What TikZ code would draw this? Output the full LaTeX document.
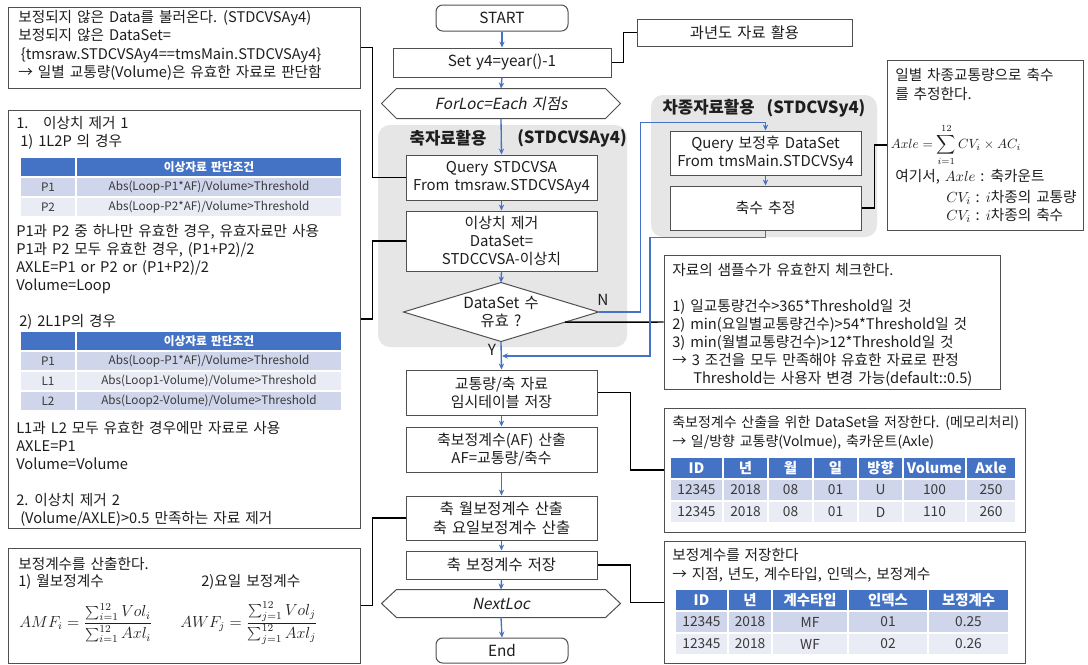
\documentclass[tikz,border=0pt]{standalone}
\usepackage{fontspec}
\setmainfont{Noto Sans CJK KR}[AutoFakeSlant=0.2,WordSpace=1.5]
\usetikzlibrary{arrows.meta,calc}
\definecolor{flowblue}{HTML}{4472C4}
\definecolor{hdrblue}{HTML}{4472C4}
\definecolor{rowa}{HTML}{CFD5EA}
\definecolor{rowb}{HTML}{E9EBF5}
\definecolor{regiongray}{HTML}{E6E6E6}
\definecolor{ink}{HTML}{1E1E1E}
\definecolor{cellink}{HTML}{3A3A3A}
\definecolor{edge}{HTML}{505050}
\newcommand\bx[7][]{%
  \pgfmathsetmacro\bxw{(#5-#3)*0.75}%
  \pgfmathsetmacro\bxh{(#6-#4)*0.75}%
  \node[flowbox,#1,minimum width=\bxw pt,minimum height=\bxh pt] (#2) at ({(#3+#5)/2},{(#4+#6)/2}) {#7};}
\newcommand\cellbox[8]{%
  \fill[#5] ({#1+1},{#2+1}) rectangle ({#3-1},{#4-1});
  \node[#8] (#6) at ({(#1+#3)/2},{(#2+#4)/2}) {#7};}
\begin{document}
\begin{tikzpicture}[x=0.75pt,y=-0.75pt,
  every node/.style={text=ink,font=\fontsize{11}{13.9}\selectfont},
  flowbox/.style={draw=edge,line width=0.75pt,fill=white,align=center,inner sep=0pt,font=\fontsize{11.2}{13.5}\selectfont},
  bigfont/.style={font=\fontsize{11.5}{14}\selectfont},
  notetxt/.style={anchor=north west,align=left,inner sep=0pt},
  region/.style={fill=regiongray,rounded corners=9pt},
  arr/.style={draw=flowblue,line width=1pt,-{Stealth[length=4.5pt,width=4pt]}},
  conn/.style={draw=black,line width=1.1pt},
  hexline/.style={draw=edge,line width=0.75pt,fill=white},
  lcell/.style={font=\fontsize{8.8}{10}\selectfont,text=cellink,inner sep=0pt},
  lhead/.style={font=\fontsize{8.8}{10}\selectfont\bfseries,text=white,inner sep=0pt},
  rcell/.style={font=\fontsize{10.3}{12}\selectfont,text=cellink,inner sep=0pt},
  rhead/.style={font=\fontsize{10.8}{12}\selectfont\bfseries,text=white,inner sep=0pt},
  titletxt/.style={font=\fontsize{12.5}{14}\selectfont\bfseries,inner sep=0pt},
  mathfont/.style={font=\fontsize{12}{14}\selectfont,inner sep=0pt},
]
\useasboundingbox (0,0) rectangle (1088,664);
\fill[white] (0,0) rectangle (1088,664);

% regions
\fill[region] (378,125) rectangle (627,347);
\fill[region] (651,95) rectangle (877,237);
\node[titletxt] (reg1a) at (448,138) {축자료활용};
\node[titletxt] (reg1b) at (572,138) {(STDCVSAy4)};
\node[titletxt] (reg2) at (764,108) {차종자료활용\hspace{9pt}(STDCVSy4)};

% main flow
\bx[rounded corners=5pt,bigfont]{start}{436}{5}{568}{31}{START}
\bx[bigfont]{set}{393}{48}{611}{77}{Set y4=year()-1}
\bx[draw=none,fill=none]{loop}{397}{89}{605}{118}{}
\draw[hexline] (loop.north west) -- (loop.north east) -- ($(loop.east)+(15,0)$) -- (loop.south east) -- (loop.south west) -- ($(loop.west)+(-15,0)$) -- cycle;
\node[bigfont] (loopt) at (loop.center) {\itshape ForLoc=Each 지점s};
\bx{q1}{406}{155}{597}{200}{Query STDCVSA\\From tmsraw.STDCVSAy4}
\bx{out}{406}{211}{597}{271}{이상치 제거\\DataSet=\\STDCCVSA-이상치}
\bx[draw=none,fill=none]{dia}{404}{283}{598}{341}{}
\draw[hexline] (dia.west) -- (dia.north) -- (dia.east) -- (dia.south) -- cycle;
\node[bigfont,align=center] (diat) at (dia.center) {DataSet 수\\유효 ?};
\bx{tmp}{406}{370}{597}{415}{교통량/축 자료\\임시테이블 저장}
\bx{af}{406}{427}{597}{472}{축보정계수(AF) 산출\\AF=교통량/축수}
\bx[bigfont]{mon}{406}{496}{597}{540}{축 월보정계수 산출\\축 요일보정계수 산출}
\bx[bigfont]{save}{406}{551}{597}{579}{축 보정계수 저장}
\bx[draw=none,fill=none]{next}{397}{590}{605}{617}{}
\draw[hexline] (next.north west) -- (next.north east) -- ($(next.east)+(15,0)$) -- (next.south east) -- (next.south west) -- ($(next.west)+(-15,0)$) -- cycle;
\node[bigfont] (nextt) at (next.center) {\itshape NextLoc};
\bx[rounded corners=5pt,bigfont]{endn}{436}{638}{568}{663}{End}
\node[bigfont] (ylab) at (492,350) {Y};
\node[bigfont] (nlab) at (603,300) {N};

% right flow
\bx[bigfont]{past}{637}{19}{852}{46}{과년도 자료 활용}
\bx{q2}{670}{131}{861}{175}{Query 보정후 DataSet\\From tmsMain.STDCVSy4}
\bx{axc}{670}{186}{861}{230}{축수 추정}

% note boxes
\bx{n1}{8}{7}{360}{88}{}
\bx{n2}{8}{110}{360}{528}{}
\bx{n3}{8}{548}{360}{663.5}{}
\bx{rn}{887}{60}{1083}{230}{}
\bx{chk}{664}{255}{1000}{389}{}
\bx{tb1}{664}{408}{1025}{532}{}
\bx{tb2}{664}{541}{1025}{663.5}{}

% note texts
\node[notetxt] (n1t) at (18,10) {보정되지 않은 Data를 불러온다. (STDCVSAy4)\\보정되지 않은 DataSet=\\\hspace*{2pt}\{tmsraw.STDCVSAy4==tmsMain.STDCVSAy4\}\\→ 일별 교통량(Volume)은 유효한 자료로 판단함};

\node[notetxt,font=\fontsize{11}{13.5}\selectfont] (n2a) at (16,116.5) {1.\hspace{1em}이상치 제거 1\\\hspace*{3pt}1) 1L2P 의 경우};
\node[notetxt,font=\fontsize{11}{13.5}\selectfont] (n2b) at (16,224.5) {P1과 P2 중 하나만 유효한 경우, 유효자료만 사용\\P1과 P2 모두 유효한 경우, (P1+P2)/2\\AXLE=P1 or P2 or (P1+P2)/2\\Volume=Loop};
\node[notetxt,font=\fontsize{11}{13.5}\selectfont] (n2c) at (19,314.5) {2) 2L1P의 경우};
\node[notetxt,font=\fontsize{11}{13.5}\selectfont] (n2d) at (16,421.5) {L1과 L2 모두 유효한 경우에만 자료로 사용\\AXLE=P1\\Volume=Volume\\[13.5pt]2. 이상치 제거 2\\\hspace*{3pt}(Volume/AXLE)>0.5 만족하는 자료 제거};

\node[notetxt,font=\fontsize{11}{13}\selectfont] (n3a) at (18,557) {보정계수를 산출한다.\\1) 월보정계수};
\node[notetxt,font=\fontsize{11}{13}\selectfont] (n3b) at (201,574.5) {2)요일 보정계수};
\node[mathfont] (amf) at (86,623) {$\displaystyle AMF_i=\frac{\sum_{i=1}^{12}Vol_i}{\sum_{i=1}^{12}Axl_i}$};
\node[mathfont] (awf) at (249,623) {$\displaystyle AWF_j=\frac{\sum_{j=1}^{12}Vol_j}{\sum_{j=1}^{12}Axl_j}$};

\node[notetxt] (rnt) at (895,68.5) {일별 차종교통량으로 축수\\를 추정한다.};
\node[font=\fontsize{9.8}{12}\selectfont,inner sep=0pt] (rnf) at (956,145) {$\displaystyle Axle=\sum_{i=1}^{12}CV_i\times AC_i$};
\node[anchor=base west,inner sep=0pt] (rnw) at (895,181) {여기서, $Axle$ : 축카운트};
\node[anchor=base west,inner sep=0pt] (rnc1) at (946,202) {$CV_i$ : $i$차종의 교통량};
\node[anchor=base west,inner sep=0pt] (rnc2) at (946,220) {$CV_i$ : $i$차종의 축수};

\node[notetxt,font=\fontsize{11}{13.5}\selectfont] (chkt) at (672,263.5) {자료의 샘플수가 유효한지 체크한다.\\[13.5pt]1) 일교통량건수>365*Threshold일 것\\2) min(요일별교통량건수)>54*Threshold일 것\\3) min(월별교통량건수)>12*Threshold일 것\\→ 3 조건을 모두 만족해야 유효한 자료로 판정\\\hspace*{15.75pt}Threshold는 사용자 변경 가능(default::0.5)};

\node[notetxt,font=\fontsize{10.5}{14}\selectfont] (tb1t) at (672,416) {축보정계수 산출을 위한 DataSet을 저장한다. (메모리처리)\\→ 일/방향 교통량(Volmue), 축카운트(Axle)};
\node[notetxt,font=\fontsize{11}{14}\selectfont] (tb2t) at (672,548) {보정계수를 저장한다\\→ 지점, 년도, 계수타입, 인덱스, 보정계수};

% left tables
\cellbox{20}{157}{76}{177}{hdrblue}{la0}{}{lhead}
\cellbox{76}{157}{342}{177}{hdrblue}{la1}{이상자료 판단조건}{lhead}
\cellbox{20}{177}{76}{197}{rowa}{la2}{P1}{lcell}
\cellbox{76}{177}{342}{197}{rowa}{la3}{Abs(Loop-P1*AF)/Volume>Threshold}{lcell}
\cellbox{20}{197}{76}{217}{rowb}{la4}{P2}{lcell}
\cellbox{76}{197}{342}{217}{rowb}{la5}{Abs(Loop-P2*AF)/Volume>Threshold}{lcell}

\cellbox{20}{331}{76}{351}{hdrblue}{lb0}{}{lhead}
\cellbox{76}{331}{342}{351}{hdrblue}{lb1}{이상자료 판단조건}{lhead}
\cellbox{20}{351}{76}{371}{rowa}{lb2}{P1}{lcell}
\cellbox{76}{351}{342}{371}{rowa}{lb3}{Abs(Loop-P1*AF)/Volume>Threshold}{lcell}
\cellbox{20}{371}{76}{391}{rowb}{lb4}{L1}{lcell}
\cellbox{76}{371}{342}{391}{rowb}{lb5}{Abs(Loop1-Volume)/Volume>Threshold}{lcell}
\cellbox{20}{391}{76}{411}{rowa}{lb6}{L2}{lcell}
\cellbox{76}{391}{342}{411}{rowa}{lb7}{Abs(Loop2-Volume)/Volume>Threshold}{lcell}

% right tables
\foreach \xa/\xb/\ca/\cb/\cc [count=\i] in {670/723/ID/12345/12345, 723/768/년/2018/2018, 768/813/월/08/08, 813/858/일/01/01, 858/903/방향/U/D, 903/966/Volume/100/110, 966/1016/Axle/250/260}{
  \cellbox{\xa}{457}{\xb}{479}{hdrblue}{ra\i}{\ca}{rhead}
  \cellbox{\xa}{479}{\xb}{501}{rowa}{rb\i}{\cb}{rcell}
  \cellbox{\xa}{501}{\xb}{523}{rowb}{rc\i}{\cc}{rcell}
}
\foreach \xa/\xb/\ca/\cb/\cc [count=\i] in {675/728/ID/12345/12345, 728/772/년/2018/2018, 772/848/계수타입/MF/WF, 848/928/인덱스/01/02, 928/1009/보정계수/0.25/0.26}{
  \cellbox{\xa}{589}{\xb}{611}{hdrblue}{sa\i}{\ca}{rhead}
  \cellbox{\xa}{611}{\xb}{633}{rowa}{sb\i}{\cb}{rcell}
  \cellbox{\xa}{633}{\xb}{655}{rowb}{sc\i}{\cc}{rcell}
}

% black connectors
\coordinate (dcut) at ($(dia.east)!0.345!(dia.south)$);
\draw[conn] (n1.east) -- ++(12,0) |- (q1.west);
\draw[conn] (n2.east) -- ++(12,0) |- (out.west);
\draw[conn] (n3.east) -- ++(12,0) |- (mon.west);
\draw[conn] (set.east) -- ++(12,0) |- (past.west);
\draw[conn] (axc.east) -- ++(13,0) |- (rn.west);
\draw[conn] (dcut) -- (chk.west);
\draw[conn] (tmp.east) -- ++(33,0) |- (tb1.west);
\draw[conn] (save.east) -- ++(33,0) |- (tb2.west);

% blue arrows
\draw[arr] (start.south) -- (set.north);
\draw[arr] (set.south) -- (loop.north);
\draw[arr] (loop.south) -- (q1.north);
\draw[arr] (q1.south) -- (out.north);
\draw[arr] (out.south) -- (dia.north);
\draw[arr] (dia.south) -- (tmp.north);
\draw[arr] (tmp.south) -- (af.north);
\draw[arr] (af.south) -- (mon.north);
\draw[arr] (mon.south) -- (save.north);
\draw[arr] (save.south) -- (next.north);
\draw[arr] (next.south) -- (endn.north);
\draw[arr] (q2.south) -- (axc.north);
\draw[arr] (dia.east) -- ++(42,0) |- ([yshift=6pt]q2.north) -- (q2.north);
\coordinate (merge) at (502,356);
\draw[arr] (axc.south) -- ++(0,7) -| (650,356) -- (merge);
\end{tikzpicture}
\end{document}
